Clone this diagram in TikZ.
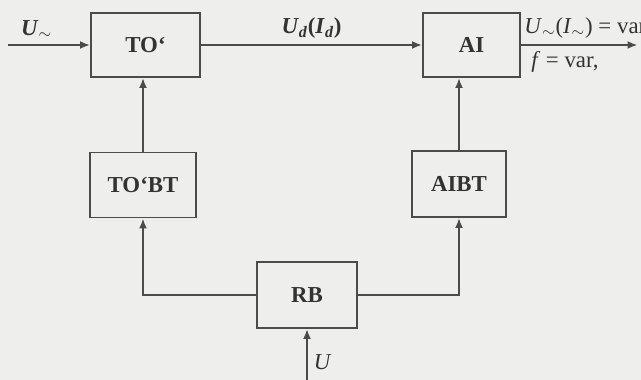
\documentclass[tikz,border=0pt]{standalone}
\usepackage{fontspec}
\setmainfont{Liberation Serif}
\usepackage{amsmath}
\usetikzlibrary{arrows.meta,positioning,calc}
\definecolor{bgcol}{RGB}{238,238,236}
\definecolor{linecol}{RGB}{75,75,75}

\begin{document}
\begin{tikzpicture}[
  block/.style={rectangle,draw=linecol,line width=1.1pt,fill=bgcol,inner sep=0pt,
    font=\fontsize{13}{15}\selectfont\bfseries,text=black!80},
  link/.style={-{Latex[length=2mm,width=1.6mm]},line width=1.1pt,linecol},
  lbl/.style={font=\fontsize{13}{15}\selectfont,text=black!80}
]
\fill[bgcol] (0,0) rectangle (12.82,7.6);
\useasboundingbox (0,0) rectangle (12.82,7.6);
\node[block,minimum width=2.18cm,minimum height=1.28cm] (to) at (2.91,6.70) {TO‘};
\node[block,minimum width=1.94cm,minimum height=1.28cm] (ai) at (9.43,6.70) {AI};
\node[block,minimum width=2.12cm,minimum height=1.30cm] (tobt) at (2.86,3.90) {TO‘BT};
\node[block,minimum width=1.88cm,minimum height=1.32cm] (aibt) at (9.18,3.92) {AIBT};
\node[block,minimum width=2.00cm,minimum height=1.32cm] (rb) at (6.14,1.70) {RB};
\coordinate (in) at (0.16,6.70);
\coordinate (out) at (12.75,6.70);
\coordinate (uin) at (6.14,0);
% main power path
\draw[link] (in)--node[lbl,pos=0.35,above] {\textbf{\textit{U}}$_{\sim}$}(to);
\draw[link] (to)--node[lbl,above] {\textbf{\textit{U}$_{\textit{d}}$(\textit{I}$_{\textit{d}}$)}}(ai);
\draw[link] (ai)--node[lbl,pos=0,above right,xshift=-2pt] {\textit{U}$_{\sim}$(\textit{I}$_{\sim}$) = var}
  node[lbl,pos=0.03,below right] {\textit{f} = var,}(out);
% control path
\draw[link] (tobt)--(tobt|-to.south);
\draw[link] (aibt)--(aibt|-ai.south);
\draw[link] (rb.west)-|(tobt.south);
\draw[link] (rb.east)-|(aibt.south);
\draw[link] (uin)--node[lbl,pos=0.35,right] {\textit{U}}(rb);
\end{tikzpicture}
\end{document}
